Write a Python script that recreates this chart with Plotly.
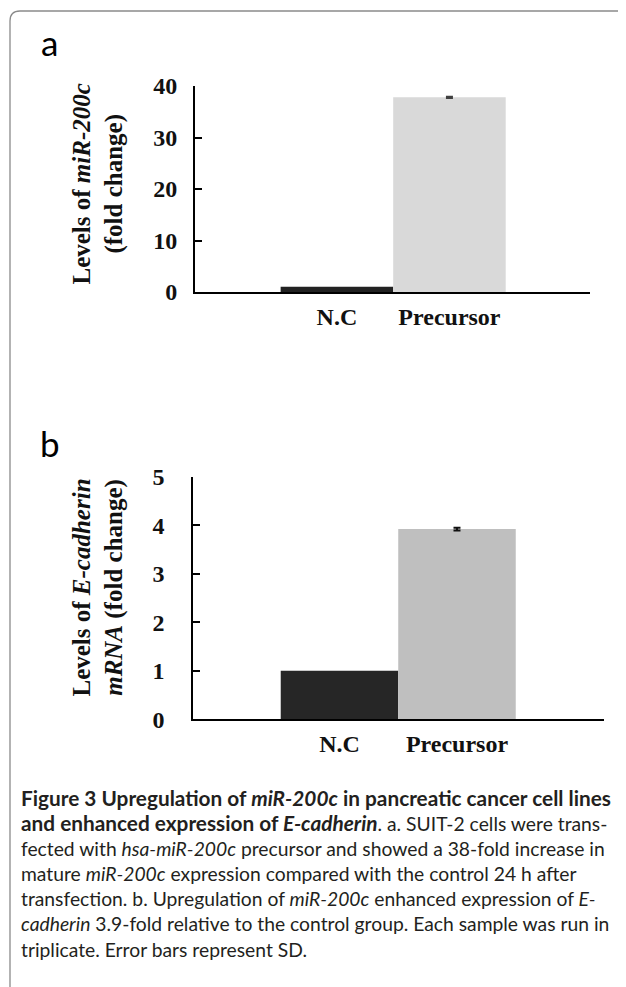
import plotly.graph_objects as go

# The page body keeps an 8px margin, so the figure is drawn 8px in from the
# window corner; positions below are given in window pixels and shifted back.
OFF = 8
W, H = 626 - OFF, 987 - OFF

# ---- data ----
categories = ["N.C", "Precursor"]
mir200c_levels = [1.0, 37.8]
mir200c_sd = [0.0, 0.12]
ecad_levels = [1.0, 3.92]
ecad_sd = [0.0, 0.03]
ticks_a = [0, 10, 20, 30, 40]
ticks_b = [0, 1, 2, 3, 4, 5]

colors_a = ["#222222", "#d9d9d9"]
colors_b = ["#262626", "#bfbfbf"]

SERIF = "Liberation Serif, Times New Roman, serif"
SANS = "Lato, Noto Sans, sans-serif"

def px_x(x):
    return (x - OFF) / W

def px_y(y):
    return 1 - (y - OFF) / H

xpos = list(range(len(categories)))

fig = go.Figure()
for i, cat in enumerate(categories):
    fig.add_trace(go.Bar(x=[xpos[i]], y=[mir200c_levels[i]], width=1, name=cat,
                         marker=dict(color=colors_a[i], line=dict(width=0)),
                         error_y=dict(type="data", array=[mir200c_sd[i]], visible=mir200c_sd[i] > 0,
                                      color="#404040", thickness=2, width=3.5),
                         xaxis="x", yaxis="y", showlegend=False, hoverinfo="skip"))
    fig.add_trace(go.Bar(x=[xpos[i]], y=[ecad_levels[i]], width=1, name=cat,
                         marker=dict(color=colors_b[i], line=dict(width=0)),
                         error_y=dict(type="data", array=[ecad_sd[i]], visible=ecad_sd[i] > 0,
                                      color="#111111", thickness=2, width=3.5),
                         xaxis="x2", yaxis="y2", showlegend=False, hoverinfo="skip"))

tickfont = dict(family=SERIF, size=24, color="#111111", weight="bold")

common_x = dict(showline=True, linecolor="black", linewidth=2, ticks="", showgrid=False,
                zeroline=False, tickfont=tickfont, tickvals=xpos, ticktext=categories,
                fixedrange=True, automargin=False)
common_y = dict(showline=True, linecolor="black", linewidth=2, ticks="inside", ticklen=7,
                tickwidth=2, tickcolor="black", showgrid=False, zeroline=False,
                tickfont=tickfont, fixedrange=True, automargin=False)

fig.update_layout(
    template="none",
    width=W, height=H, margin=dict(l=0, r=0, t=0, b=0, pad=0, autoexpand=False),
    paper_bgcolor="white", plot_bgcolor="white", barmode="overlay",
    xaxis=dict(domain=[px_x(195), px_x(590)], range=[-1.261, 2.249], anchor="y",
               ticklabelstandoff=2, **common_x),
    yaxis=dict(domain=[px_y(292), px_y(86)], range=[0, 40], tickvals=ticks_a, anchor="x",
               ticklabelstandoff=11, **common_y),
    xaxis2=dict(domain=[px_x(193.3), px_x(604)], range=[-1.244, 2.251], anchor="y2",
                ticklabelstandoff=2, **common_x),
    yaxis2=dict(domain=[px_y(719.3), px_y(476.7)], range=[0, 5], tickvals=ticks_b, anchor="x2",
                ticklabelstandoff=22, **common_y),
)

titlefont = dict(family=SERIF, size=25, color="#111111", weight="bold")
annotations = [
    dict(text="Levels of <i>miR-200c</i><br>(fold change)", x=px_x(97.5), y=px_y(184),
         textangle=-90, font=titlefont, xanchor="center", yanchor="middle"),
    dict(text="Levels of <i>E-cadherin</i><br><i>mRNA</i> (fold change)", x=px_x(97.5), y=px_y(588),
         textangle=-90, font=titlefont, xanchor="center", yanchor="middle"),
    dict(text="a", x=px_x(39), y=px_y(42), xanchor="left", yanchor="middle",
         font=dict(family=SANS, size=35, color="black")),
    dict(text="b", x=px_x(38), y=px_y(443), xanchor="left", yanchor="middle",
         font=dict(family=SANS, size=35, color="black")),
]

B = '<span style="font-size:20.8px"><b>'
E = '</b></span>'
caption_lines = [
    B + "Figure 3 Upregulation of <i>miR-200c</i> in pancreatic cancer cell lines" + E,
    B + "and enhanced expression of <i>E-cadherin</i>" + E + ". a. SUIT-2 cells were trans-",
    "fected with <i>hsa-miR-200c</i> precursor and showed a 38-fold increase in",
    "mature <i>miR-200c</i> expression compared with the control 24 h after",
    "transfection. b. Upregulation of <i>miR-200c</i> enhanced expression of <i>E-</i>",
    "<i>cadherin</i> 3.9-fold relative to the control group. Each sample was run in",
    "triplicate. Error bars represent SD.",
]
annotations.append(dict(text="<br>".join(caption_lines), x=px_x(19), y=px_y(783),
                        xanchor="left", yanchor="top", align="left",
                        font=dict(family=SANS, size=19.3, color="#231f20")))
for a in annotations:
    a.update(xref="paper", yref="paper", showarrow=False)
fig.update_layout(annotations=annotations)

# rounded frame around the figure
x0, y0, r = px_x(10), px_y(11), 10
fig.add_shape(type="path", xref="paper", yref="paper",
              path=f"M 1.0,{y0} L {px_x(10 + r)},{y0} Q {x0},{y0} {x0},{px_y(11 + r)} L {x0},0",
              line=dict(color="#8a8a8a", width=1.3))

fig.write_html("out.html")
